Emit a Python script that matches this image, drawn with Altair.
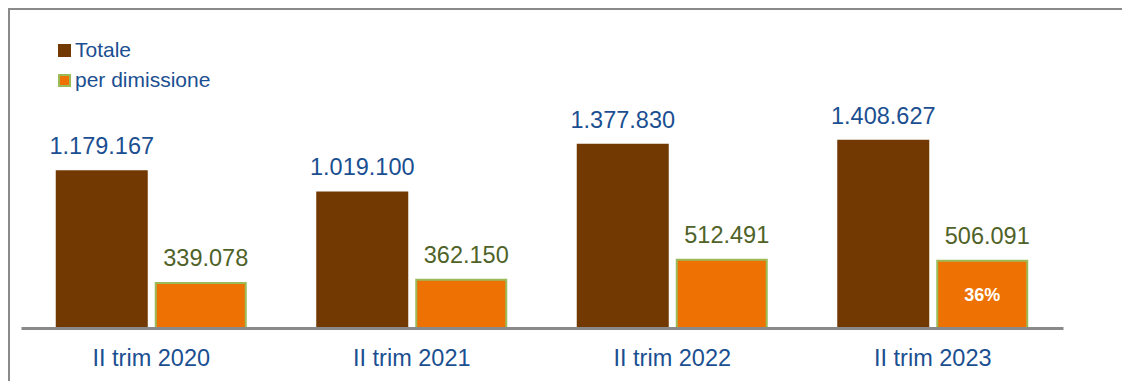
import altair as alt
import pandas as pd

categories = ["II trim 2020", "II trim 2021", "II trim 2022", "II trim 2023"]
series_names = ["Totale", "per dimissione"]
totale = [1179167, 1019100, 1377830, 1408627]
per_dimissione = [339078, 362150, 512491, 506091]
share_labels = ["", "", "", "36%"]

BROWN = "#733902"
ORANGE = "#ED7103"
GREEN = "#9BBB59"
BLUE = "#1B4F91"
OLIVE = "#4F6228"
GREY = "#8a8a8a"
FONT = "Liberation Sans"

def it_fmt(v):
    return f"{v:,}".replace(",", ".")

rows = []
for i, c in enumerate(categories):
    rows.append({"cat": c, "serie": "Totale", "value": totale[i],
                 "label": it_fmt(totale[i]), "share": ""})
    rows.append({"cat": c, "serie": "per dimissione", "value": per_dimissione[i],
                 "label": it_fmt(per_dimissione[i]), "share": share_labels[i]})
df = pd.DataFrame(rows)

W, H = 1042, 241
PL, PT = 13, 79
TOTAL_W, TOTAL_H = 1114, 373
YMAX = 1812320

x_enc = alt.X(
    "cat:N", sort=categories,
    scale=alt.Scale(paddingInner=0.2745, paddingOuter=0.13725),
    axis=alt.Axis(title=None, labelAngle=0, labelFont=FONT, labelFontSize=23.5,
                  labelColor=BLUE, labelPadding=37, labelBaseline="alphabetic",
                  ticks=False, tickSize=0, domainColor=GREY, domainWidth=3,
                  zindex=1, grid=False),
)
xo_enc = alt.XOffset("serie:N", sort=series_names,
                     scale=alt.Scale(paddingInner=0.0909, paddingOuter=0))
y_enc = alt.Y("value:Q", scale=alt.Scale(domain=[0, YMAX], nice=False, zero=True), axis=None)

legend = alt.Legend(title=None, orient="none", legendX=33, legendY=-47,
                    direction="vertical", symbolType="square", symbolSize=121,
                    symbolStrokeWidth=2, labelFont=FONT, labelFontSize=21,
                    labelColor=BLUE, labelOffset=0, rowPadding=8, padding=0)

base = alt.Chart(df)

bars = base.mark_bar(strokeWidth=2).encode(
    x=x_enc, xOffset=xo_enc, y=y_enc,
    fill=alt.Fill("serie:N", sort=series_names,
                  scale=alt.Scale(domain=series_names, range=[BROWN, ORANGE]), legend=legend),
    stroke=alt.Stroke("serie:N", sort=series_names,
                      scale=alt.Scale(domain=series_names, range=[BROWN, GREEN]), legend=legend),
)

txt_tot = base.transform_filter(alt.datum.serie == "Totale").mark_text(
    baseline="alphabetic", dy=-17, fontSize=23.5, font=FONT, color=BLUE
).encode(x=x_enc, xOffset=xo_enc, y=y_enc, text="label:N")

txt_dim = base.transform_filter(alt.datum.serie == "per dimissione").mark_text(
    baseline="alphabetic", dy=-17, dx=5, fontSize=23.5, font=FONT, color=OLIVE
).encode(x=x_enc, xOffset=xo_enc, y=y_enc, text="label:N")

txt_share = base.transform_filter(alt.datum.share != "").transform_calculate(
    mid="datum.value / 2"
).mark_text(baseline="middle", dy=2, fontSize=18, font=FONT, fontWeight="bold",
            color="white").encode(
    x=x_enc, xOffset=xo_enc, y=alt.Y("mid:Q", scale=alt.Scale(domain=[0, YMAX], nice=False), axis=None),
    text="share:N")

frame_df = pd.DataFrame({"k": [0]})
frame_top = alt.Chart(frame_df).mark_rule(color=GREY, strokeWidth=3).encode(
    x=alt.value(-PL), x2=alt.value(TOTAL_W - PL + 20),
    y=alt.value(-PT + 0.5))
frame_left = alt.Chart(frame_df).mark_rule(color=GREY, strokeWidth=3).encode(
    x=alt.value(-PL + 0.5), y=alt.value(-PT), y2=alt.value(TOTAL_H - PT + 20))

chart = alt.layer(bars, txt_tot, txt_dim, txt_share, frame_top, frame_left).properties(
    width=W, height=H,
    autosize=alt.AutoSizeParams(type="none"),
    padding={"left": PL, "top": PT, "right": TOTAL_W - PL - W, "bottom": TOTAL_H - PT - H},
    background="white",
).configure_view(stroke=None)

chart.save("out.html", embed_options={"renderer": "svg", "actions": False})
